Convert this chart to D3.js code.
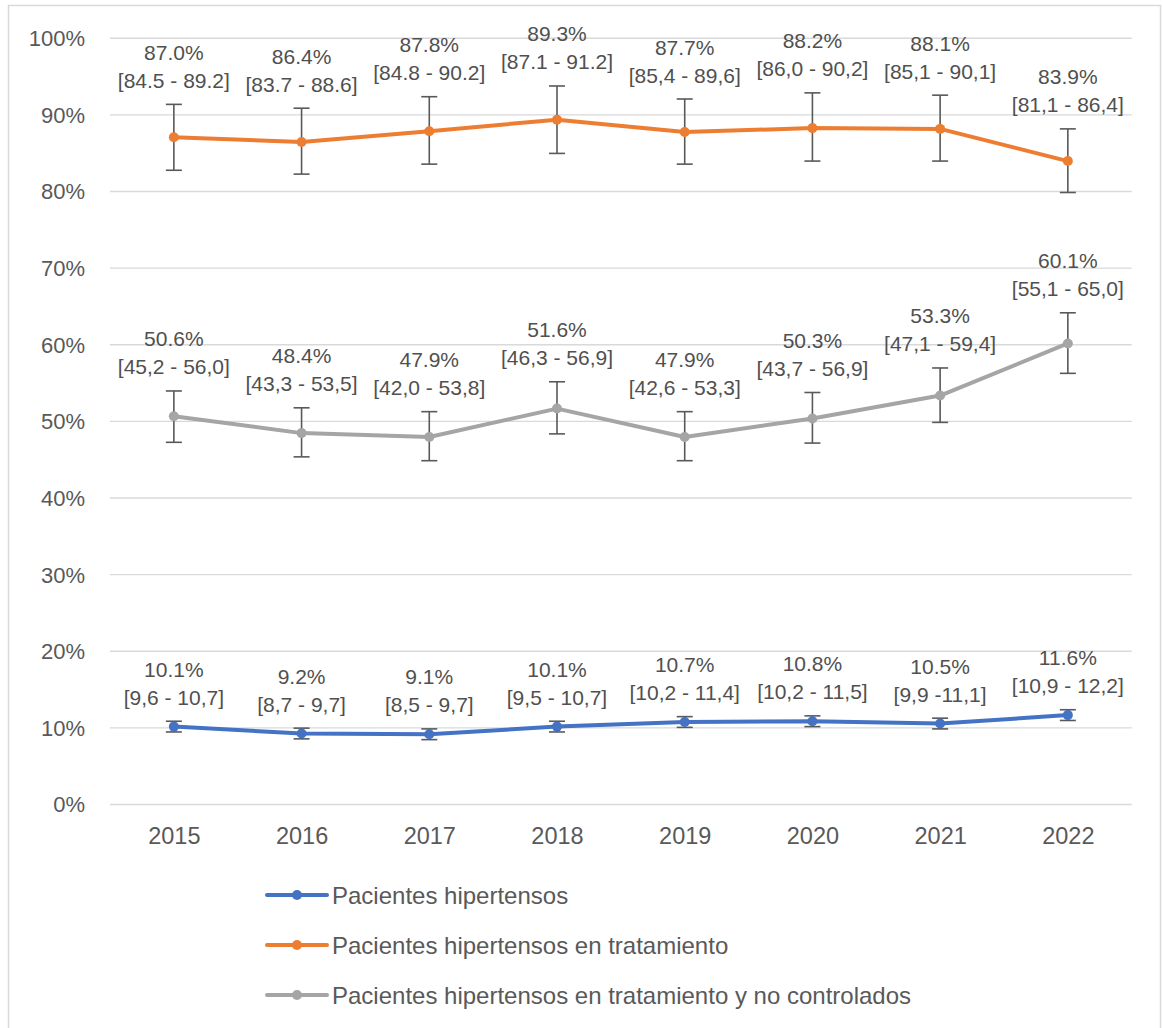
<!DOCTYPE html>
<html><head><meta charset="utf-8">
<script src="https://cdn.jsdelivr.net/npm/d3@7"></script>
<style>
body{margin:0;background:#fff}
text{font-family:"Liberation Sans",Arial,sans-serif;fill:#595959}
</style></head>
<body><svg id="c" width="1163" height="1028"></svg>
<script>
const years = ["2015","2016","2017","2018","2019","2020","2021","2022"];

const hipertensos = [10.1, 9.2, 9.1, 10.1, 10.7, 10.8, 10.5, 11.6];
const hipertensosCI = ["[9,6 - 10,7]","[8,7 - 9,7]","[8,5 - 9,7]","[9,5 - 10,7]","[10,2 - 11,4]","[10,2 - 11,5]","[9,9 -11,1]","[10,9 - 12,2]"];
const hipertensosErrLow = [9.4, 8.5, 8.4, 9.4, 10.0, 10.1, 9.8, 10.9];
const hipertensosErrHigh = [10.8, 9.9, 9.8, 10.8, 11.4, 11.5, 11.2, 12.3];

const tratamiento = [87.0, 86.4, 87.8, 89.3, 87.7, 88.2, 88.1, 83.9];
const tratamientoCI = ["[84.5 - 89.2]","[83.7 - 88.6]","[84.8 - 90.2]","[87.1 - 91.2]","[85,4 - 89,6]","[86,0 - 90,2]","[85,1 - 90,1]","[81,1 - 86,4]"];
const tratamientoErrLow = [82.7, 82.2, 83.5, 84.9, 83.5, 83.9, 83.9, 79.8];
const tratamientoErrHigh = [91.3, 90.8, 92.3, 93.7, 92.0, 92.8, 92.5, 88.1];

const noControlados = [50.6, 48.4, 47.9, 51.6, 47.9, 50.3, 53.3, 60.1];
const noControladosCI = ["[45,2 - 56,0]","[43,3 - 53,5]","[42,0 - 53,8]","[46,3 - 56,9]","[42,6 - 53,3]","[43,7 - 56,9]","[47,1 - 59,4]","[55,1 - 65,0]"];
const noControladosErrLow = [47.2, 45.3, 44.8, 48.3, 44.8, 47.1, 49.8, 56.2];
const noControladosErrHigh = [53.9, 51.7, 51.2, 55.1, 51.2, 53.7, 56.9, 64.1];

const seriesNames = ["Pacientes hipertensos","Pacientes hipertensos en tratamiento","Pacientes hipertensos en tratamiento y no controlados"];
const seriesColors = ["#4472C4","#ED7D31","#A5A5A5"];
const yTicks = [0,10,20,30,40,50,60,70,80,90,100];

const series = [
  {name: seriesNames[0], color: seriesColors[0], values: hipertensos, ci: hipertensosCI, lo: hipertensosErrLow, hi: hipertensosErrHigh},
  {name: seriesNames[1], color: seriesColors[1], values: tratamiento, ci: tratamientoCI, lo: tratamientoErrLow, hi: tratamientoErrHigh},
  {name: seriesNames[2], color: seriesColors[2], values: noControlados, ci: noControladosCI, lo: noControladosErrLow, hi: noControladosErrHigh}
];

const svg = d3.select("#c");
svg.append("path").attr("d","M8.5,1028 V5.5 H1160.5 V1028").attr("fill","none").attr("stroke","#d9d9d9").attr("stroke-width",1.5);

const x = d3.scalePoint().domain(years).range([110,1131.7]).padding(0.5);
const y = d3.scaleLinear().domain([0,100]).range([804,37.7]);

const yAxis = d3.axisLeft(y).tickValues(yTicks).tickSize(-(1131.7-110)).tickFormat(d => d + "%");
const gy = svg.append("g").attr("transform","translate(110,0)").call(yAxis);
gy.select(".domain").remove();
gy.selectAll(".tick line").attr("stroke","#d9d9d9").attr("stroke-width",1.4);
gy.selectAll(".tick text").attr("x",-25).attr("dy","0.36em").attr("font-size","22px").style("fill","#595959");

const xAxis = d3.axisBottom(x).tickSize(0);
const gx = svg.append("g").attr("transform","translate(0,804)").call(xAxis);
gx.select(".domain").remove();
gx.selectAll(".tick text").attr("y",40).attr("dy","0").attr("font-size","23.5px").style("fill","#595959");

const line = d3.line().x(d => x(d.year)).y(d => y(d.v));

series.forEach(s => {
  const pts = years.map((yr,i) => ({year: yr, v: s.values[i], lo: s.lo[i], hi: s.hi[i], ci: s.ci[i]}));
  const g = svg.append("g");
  const eb = g.append("g").attr("stroke","#595959").attr("stroke-width",1.6).attr("fill","none");
  pts.forEach(p => {
    const cx = x(p.year);
    eb.append("line").attr("x1",cx).attr("x2",cx).attr("y1",y(p.hi)).attr("y2",y(p.lo));
    eb.append("line").attr("x1",cx-8).attr("x2",cx+8).attr("y1",y(p.hi)).attr("y2",y(p.hi));
    eb.append("line").attr("x1",cx-8).attr("x2",cx+8).attr("y1",y(p.lo)).attr("y2",y(p.lo));
  });
  g.append("path").datum(pts).attr("d",line).attr("fill","none").attr("stroke",s.color)
    .attr("stroke-width",4).attr("stroke-linejoin","round").attr("stroke-linecap","round");
  g.selectAll("circle").data(pts).join("circle")
    .attr("cx",d => x(d.year)).attr("cy",d => y(d.v)).attr("r",5).attr("fill",s.color);
  const lab = g.append("g").attr("text-anchor","middle").attr("font-size","21px");
  pts.forEach(p => {
    const base = y(p.hi) - 24 + 7.5;
    lab.append("text").attr("x",x(p.year)).attr("y",base - 28).text(p.v.toFixed(1) + "%").style("fill","#505050");
    lab.append("text").attr("x",x(p.year)).attr("y",base).text(p.ci).style("fill","#505050");
  });
});

const legRows = [895, 945, 995];
series.forEach((s,i) => {
  const g = svg.append("g").attr("transform",`translate(0,${legRows[i]})`);
  g.append("line").attr("x1",267).attr("x2",327).attr("y1",0).attr("y2",0).attr("stroke",s.color).attr("stroke-width",4).attr("stroke-linecap","round");
  g.append("circle").attr("cx",297).attr("cy",0).attr("r",5).attr("fill",s.color);
  g.append("text").attr("x",332).attr("y",0).attr("dy","0.36em").attr("font-size","24px").text(s.name).style("fill","#595959");
});
</script>
</body></html>
